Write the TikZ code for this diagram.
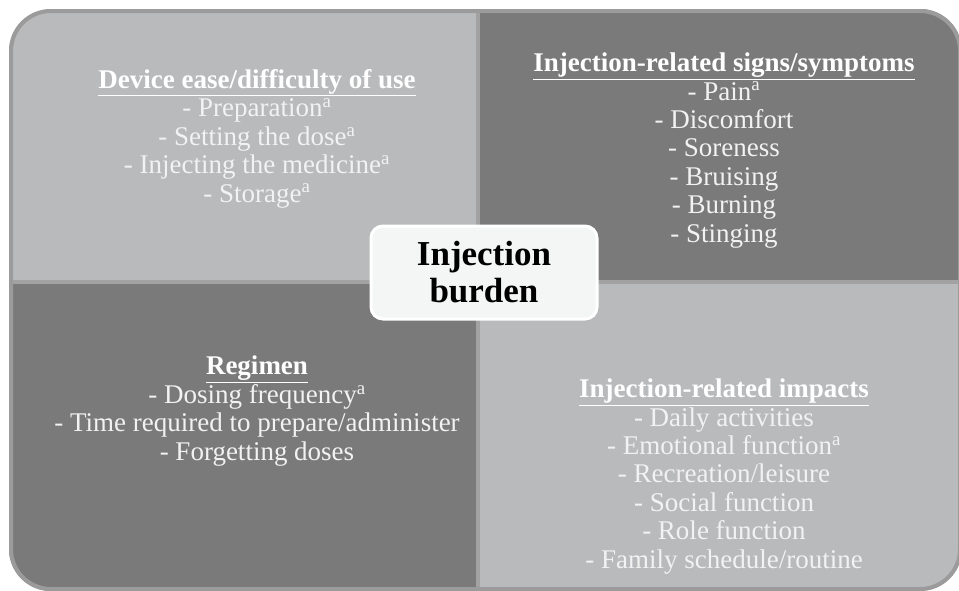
\documentclass[tikz,border=0pt]{standalone}
\usepackage{fontspec}
\setmainfont{Liberation Serif}
\definecolor{lightq}{HTML}{B9BABC}
\definecolor{darkq}{HTML}{7A7A7A}
\definecolor{edgeq}{HTML}{9B9B9B}
\definecolor{divq}{HTML}{A2A2A2}
\definecolor{txtq}{HTML}{F2F2F2}
\definecolor{boxq}{HTML}{F4F5F5}
\tikzset{
  quadtext/.style={anchor=base, align=center, text=txtq, inner sep=0pt,
    font=\fontsize{27}{28.4}\selectfont},
  centerbox/.style={draw=white, line width=3pt, fill=boxq, rounded corners=12pt,
    minimum width=226pt, minimum height=93pt, align=center, inner sep=0pt,
    font=\fontsize{35}{37}\selectfont\bfseries, text=black}
}
\newcommand{\hd}[1]{\textcolor{white}{\bfseries\underline{#1}}}
\newcommand{\sa}{\textsuperscript{a}}
\begin{document}
\begin{tikzpicture}[x=1pt, y=-1pt]
\useasboundingbox (0,0) rectangle (959,590);
\begin{scope}
  \clip[rounded corners=42pt] (9,9) rectangle (962,591);
  \fill[lightq] (0,0) rectangle (478,282);
  \fill[darkq] (478,0) rectangle (970,282);
  \fill[darkq] (0,282) rectangle (478,600);
  \fill[lightq] (478,282) rectangle (970,600);
  \fill[divq] (0,280) rectangle (970,284);
  \fill[divq] (476,0) rectangle (480,600);
\end{scope}
\draw[edgeq, line width=4pt, rounded corners=40pt] (11,11) rectangle (960,589);

\node[quadtext] (tl) at (257,202) {\hd{Device ease/difficulty of use}\\
  - Preparation\sa\\ - Setting the dose\sa\\ - Injecting the medicine\sa\\ - Storage\sa};
\node[quadtext] (tr) at (724,242) {\hd{Injection-related signs/symptoms}\\
  - Pain\sa\\ - Discomfort\\ - Soreness\\ - Bruising\\ - Burning\\ - Stinging};
\node[quadtext] (bl) at (257,460) {\hd{Regimen}\\
  - Dosing frequency\sa\\ - Time required to prepare/administer\\ - Forgetting doses};
\node[quadtext] (br) at (724,568) {\hd{Injection-related impacts}\\
  - Daily activities\\ - Emotional function\sa\\ - Recreation/leisure\\ - Social function\\ - Role function\\ - Family schedule/routine};

\node[centerbox] (center) at (484,272.5) {Injection\\burden};
\end{tikzpicture}
\end{document}
